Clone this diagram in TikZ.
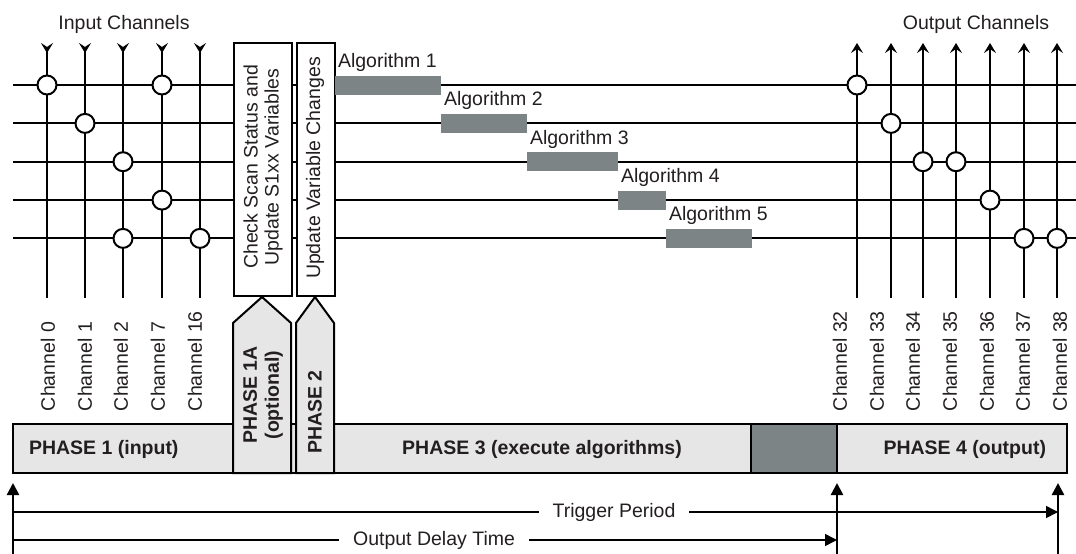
\documentclass[tikz,border=0pt]{standalone}
\usepackage{fontspec}
\setmainfont{Liberation Sans}
\usetikzlibrary{arrows.meta}
\definecolor{lg}{HTML}{E6E6E6}
\definecolor{dg}{HTML}{7D8486}
\definecolor{ink}{HTML}{231F20}
\begin{document}
\begin{tikzpicture}[x=1pt,y=-1pt,line width=2pt,
  txt/.style={font=\fontsize{19.5}{21}\selectfont,text=ink,inner sep=0pt},
  btxt/.style={font=\fontsize{19.5}{22}\selectfont\bfseries,text=ink,inner sep=0pt},
  chan/.style={txt,rotate=90,anchor=west},
  junc/.style={circle,draw,fill=white,minimum size=19pt,inner sep=0pt,line width=2pt},
  inline/.style={{Stealth[reversed,length=10pt,width=12pt,inset=4pt,line width=1pt]}-},
  outline/.style={-{Stealth[length=10pt,width=12pt,inset=4pt,line width=1pt]}},
  algbar/.style={fill=dg,draw=none,inner sep=0pt,minimum height=19pt,anchor=west},
  stagebox/.style={draw,fill=white,inner sep=0pt,anchor=north west,line width=2pt},
  phasebox/.style={draw,fill=lg,line width=2pt,line join=miter},
  upar/.style={line width=2.5pt,-{Triangle[length=12pt,width=12pt]}},
  timear/.style={line width=1.6pt,-{Triangle[length=12pt,width=12pt]}},
  gaplabel/.style={txt,fill=white,inner xsep=14pt,inner ysep=2pt}
]
\useasboundingbox (0,0) rectangle (1076,554);

% titles
\node[txt,anchor=base] (tin) at (124,29) {Input Channels};
\node[txt,anchor=base] (tout) at (976,29) {Output Channels};

% rows
\foreach \y [count=\i] in {85,123.4,161.7,200.1,238.4} {
  \coordinate (rL\i) at (13,\y);
  \coordinate (rR\i) at (1076,\y);
  \draw (rL\i) -- (rR\i);
}

% input columns
\foreach \x [count=\i] in {47,85,123,162,200} {
  \coordinate (iT\i) at (\x,43);
  \coordinate (iB\i) at (\x,298);
  \draw[inline] (iT\i) -- (iB\i);
}
% output columns
\foreach \x [count=\i] in {857,891,923,956,990,1024,1057} {
  \coordinate (oT\i) at (\x,43);
  \coordinate (oB\i) at (\x,298);
  \draw[outline] (oB\i) -- (oT\i);
}

% junctions (input)
\node[junc] (j1) at (47,85) {};
\node[junc] (j2) at (162,85) {};
\node[junc] (j3) at (85,123.4) {};
\node[junc] (j4) at (123,161.7) {};
\node[junc] (j5) at (162,200.1) {};
\node[junc] (j6) at (123,238.4) {};
\node[junc] (j7) at (200,238.4) {};
% junctions (output)
\node[junc] (k1) at (857,85) {};
\node[junc] (k2) at (891,123.4) {};
\node[junc] (k3) at (923,161.7) {};
\node[junc] (k4) at (956,161.7) {};
\node[junc] (k5) at (990,200.1) {};
\node[junc] (k6) at (1024,238.4) {};
\node[junc] (k7) at (1057,238.4) {};

% stage boxes
\node[stagebox,minimum width=58pt,minimum height=253pt] (box1) at (233,42) {};
\node[stagebox,minimum width=38pt,minimum height=253pt] (box2) at (296,42) {};
\node[txt,rotate=90,align=center] (box1t) at (263,167) {Check Scan Status and\\Update S1xx Variables};
\node[txt,rotate=90] (box2t) at (315,168) {Update Variable Changes};

% algorithm bars
\node[algbar,minimum width=106pt] (a1) at (334,85) {};
\node[algbar,minimum width=86pt] (a2) at (440,123.4) {};
\node[algbar,minimum width=91pt] (a3) at (526,161.7) {};
\node[algbar,minimum width=48pt] (a4) at (617,200.1) {};
\node[algbar,minimum width=86pt] (a5) at (665,238.4) {};
\foreach \i in {1,...,5} {
  \node[txt,anchor=base west] (a\i t) at ([xshift=3pt,yshift=7pt]a\i.north west) {Algorithm \i};
}

% channel labels
\foreach \x/\n [count=\i] in {48/0,85/1,121/2,158/7,195/16} {
  \node[chan] (ci\i) at (\x,412) {Channel \n};
}
\foreach \x/\n [count=\i] in {840/32,877/33,913/34,950/35,987/36,1023/37,1060/38} {
  \node[chan] (co\i) at (\x,412) {Channel \n};
}

% bottom bar
\draw[phasebox] (13,424) rectangle (1067,473);
\coordinate (dk1) at (751,424);
\coordinate (dk2) at (837,473);
\draw[fill=dg,line width=1.5pt] (dk1) rectangle (dk2);
\draw[line width=2pt] (13,424) -- (1067,424) (13,473) -- (1067,473);
\draw[phasebox] (233,473) -- (233,323) -- (262,297) -- (291,323) -- (291,473) -- cycle;
\draw[phasebox] (296,473) -- (296,323) -- (315,297) -- (334,323) -- (334,473) -- cycle;

\node[btxt,anchor=base west] (p1) at (28,454) {PHASE 1 (input)};
\node[btxt,rotate=90,align=center] (p1a) at (263,395) {PHASE 1A\\(optional)};
\node[btxt,rotate=90] (p2) at (315,412) {PHASE 2};
\node[btxt,anchor=base] (p3) at (542,454) {PHASE 3 (execute algorithms)};
\node[btxt,anchor=base east] (p4) at (1047,454) {PHASE 4 (output)};

% timeline
\coordinate (s0) at (13,554);  \coordinate (e0) at (13,483);
\coordinate (s1) at (837,554); \coordinate (e1) at (837,483);
\coordinate (s2) at (1058,554);\coordinate (e2) at (1058,483);
\draw[upar] (s0) -- (e0);
\draw[upar] (s1) -- (e1);
\draw[upar] (s2) -- (e2);
\coordinate (tpL) at (13,512); \coordinate (tpR) at (1058,512);
\coordinate (odL) at (13,540); \coordinate (odR) at (837,540);
\draw[timear] (tpL) -- (tpR);
\draw[timear] (odL) -- (odR);
\node[gaplabel] (tp) at (614,512) {Trigger Period};
\node[gaplabel] (od) at (434,540) {Output Delay Time};
\end{tikzpicture}
\end{document}
